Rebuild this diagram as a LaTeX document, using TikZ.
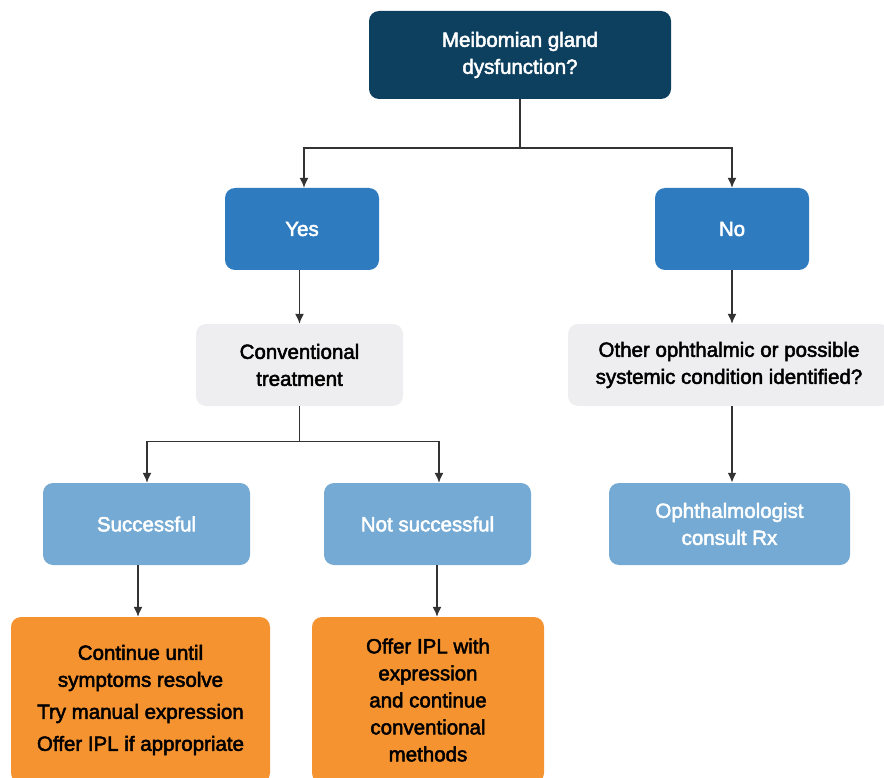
\documentclass[tikz,border=0pt]{standalone}
\usepackage{fontspec}
\setmainfont{Liberation Sans}[BoldFont=*, BoldFeatures={FakeBold=2.4}]
\usepackage{xcolor}
\definecolor{navy}{HTML}{0D3F5F}
\definecolor{midblue}{HTML}{2E7BC0}
\definecolor{paleblue}{HTML}{74AAD3}
\definecolor{lightgrey}{HTML}{EEEEF0}
\definecolor{tangerine}{HTML}{F59331}
\definecolor{linegrey}{HTML}{333333}
\usetikzlibrary{arrows.meta,positioning,calc}
\tikzset{
    x=1pt,y=-1pt,
    box/.style ={rectangle, rounded corners=10pt, align=center, inner sep=4pt,
                 minimum height=82pt, font=\fontsize{20.5}{27}\selectfont\bfseries},
    question/.style = {box, fill=navy, text=white, minimum height=88pt},
    answer/.style = {box, fill=midblue, text=white, minimum width=154pt},
    greybox/.style = {box, fill=lightgrey, text=black},
    outcome/.style = {box, fill=paleblue, text=white},
    action/.style = {box, fill=tangerine, text=black, minimum height=166pt},
    link/.style = {draw=linegrey, line width=1.4pt, -{Latex[length=10pt,width=9pt]}}
}

\begin{document}
\begin{tikzpicture}
  \useasboundingbox (0,0) rectangle (884,778);

  \node[question, minimum width=302pt] (mgd) at (520,55) {Meibomian gland\\dysfunction?};
  \node[answer] (yes) at (302,229) {Yes};
  \node[answer] (no) at (732,229) {No};

  \node[greybox, minimum width=207pt] (conv) at (299.5,365) {Conventional\\treatment};
  \node[greybox, minimum width=322pt] (other) at (729,365)
      {Other ophthalmic or possible\\systemic condition identified?};

  \node[outcome, minimum width=207pt] (succ) at (146.5,524) {Successful};
  \node[outcome, minimum width=207pt] (notsucc) at (427.5,524) {Not successful};
  \node[outcome, minimum width=241pt] (consult) at (729.5,524) {Ophthalmologist\\consult Rx};

  \node[action, minimum width=259pt] (cont) at (140.5,700)
      {Continue until\\symptoms resolve\\[5pt]Try manual expression\\[5pt]Offer IPL if appropriate};
  \node[action, minimum width=232pt] (ipl) at (428,700)
      {Offer IPL with\\expression\\and continue\\conventional\\methods};

  % branches
  \coordinate (split1) at ($(mgd.south)+(0,49)$);
  \coordinate (split2) at ($(conv.south)+(0,35)$);
  \coordinate (otherout) at (other.south -| no.south);
  \coordinate (consultin) at (consult.north -| no.south);
  \draw[link] (mgd.south) -- (split1) -| ([xshift=2pt]yes.north);
  \draw[link] (split1) -| (no.north);
  \draw[link] (yes.south -| conv.north) -- (conv.north);
  \draw[link] (conv.south) -- (split2) -| ([xshift=0.5pt]succ.north);
  \draw[link] (split2) -| ([xshift=11.5pt]notsucc.north);
  \draw[link] (no.south) -- (no.south |- other.north);
  \draw[link, line width=2pt] (otherout) -- (consultin);

  \draw[link] ([xshift=-2.5pt]cont.north |- succ.south) -- ([xshift=-2.5pt]cont.north);
  \draw[link] ([xshift=9.5pt]notsucc.south) -- ([xshift=9.5pt]notsucc.south |- ipl.north);
\end{tikzpicture}
\end{document}
